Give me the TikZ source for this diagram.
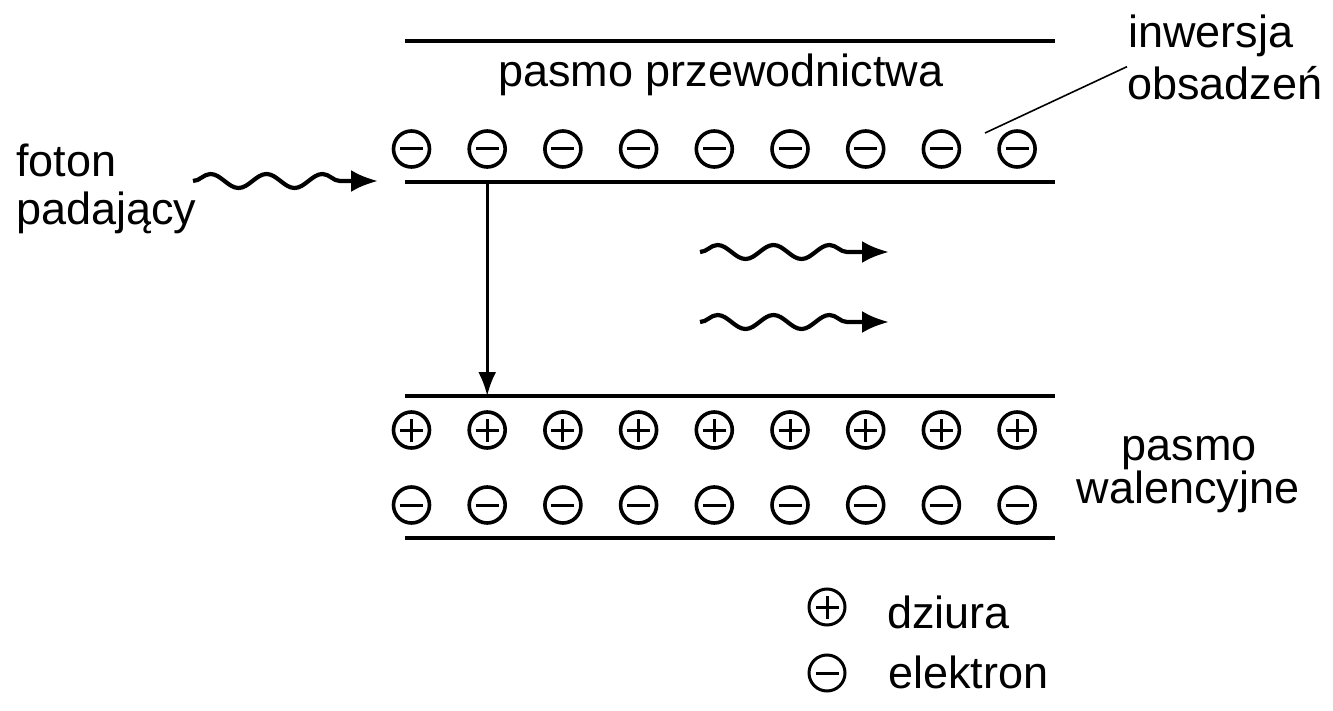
\documentclass[tikz,border=0pt]{standalone}
\usepackage{fontspec}
\setmainfont{Liberation Sans}
\usetikzlibrary{arrows.meta,decorations.pathmorphing}
\begin{document}
\begin{tikzpicture}[x=1pt,y=-1pt,
  lbl/.style={font=\fontsize{45}{54}\selectfont, inner sep=0pt},
  band/.style={line width=4.5pt},
  particle/.style={circle, draw, line width=3.6pt, minimum size=36pt, inner sep=0pt},
  electron/.style={particle, path picture={\draw[line width=3pt] ([xshift=-11.5pt]path picture bounding box.center) -- ([xshift=11.5pt]path picture bounding box.center);}},
  hole/.style={particle, path picture={\draw[line width=3pt] ([xshift=-11.5pt]path picture bounding box.center) -- ([xshift=11.5pt]path picture bounding box.center) ([yshift=-11.5pt]path picture bounding box.center) -- ([yshift=11.5pt]path picture bounding box.center);}},
  photon/.style={line width=4.2pt, -{Latex[length=27pt,width=22pt]}, decorate,
    decoration={snake, amplitude=7pt, segment length=56pt, post length=36pt}},
  leader/.style={line width=1.6pt}
]
\useasboundingbox (0,0) rectangle (1333,711);

% band edges
\coordinate (cbtopL) at (405,41);  \coordinate (cbtopR) at (1055,41);
\coordinate (cbbotL) at (405,182); \coordinate (cbbotR) at (1055,182);
\coordinate (vbtopL) at (405,396); \coordinate (vbtopR) at (1055,396);
\coordinate (vbbotL) at (405,538); \coordinate (vbbotR) at (1055,538);
\draw[band] (cbtopL) -- (cbtopR);
\draw[band] (cbbotL) -- (cbbotR);
\draw[band] (vbtopL) -- (vbtopR);
\draw[band] (vbbotL) -- (vbbotR);

% particles
\foreach \i in {0,...,8} {
  \node[electron] (e\i) at ({411.5+75.7*\i},149) {};
  \node[hole]     (h\i) at ({411.5+75.7*\i},430) {};
  \node[electron] (v\i) at ({411.5+75.7*\i},505) {};
}

% labels
\node[lbl, anchor=base] (cb) at (721,87) {pasmo przewodnictwa};
\node[lbl, anchor=base west] (fot1) at (16,177) {foton};
\node[lbl, anchor=base west] (fot2) at (16,225) {padający};
\node[lbl, anchor=base west] (inw1) at (1128,48) {inwersja};
\node[lbl, anchor=base west] (inw2) at (1127,100) {obsadzeń};
\node[lbl, anchor=base] (vb1) at (1189,460) {pasmo};
\node[lbl, anchor=base] (vb2) at (1188,503) {walencyjne};

% legend
\node[hole, line width=3pt] (lh) at (827,607) {};
\node[electron, line width=3pt] (le) at (827,673) {};
\node[lbl, anchor=base west] (ldz) at (887,628) {dziura};
\node[lbl, anchor=base west] (lel) at (888,688) {elektron};

% incident photon
\coordinate (ph0s) at (193,181);
\coordinate (ph0e) at (378,181);
\draw[photon] (ph0s) -- (ph0e);

% emitted photons
\coordinate (ph1s) at (700,252); \coordinate (ph1e) at (889,252);
\coordinate (ph2s) at (700,322); \coordinate (ph2e) at (889,322);
\draw[photon] (ph1s) -- (ph1e);
\draw[photon] (ph2s) -- (ph2e);

% transition arrow
\draw[line width=3pt, -{Latex[length=24pt,width=18pt]}] (e1 |- cbbotL) -- (e1 |- vbtopL);

% leader line
\coordinate (ldr) at (985,133);
\draw[leader] (ldr) -- (inw2.north west);
\end{tikzpicture}
\end{document}
